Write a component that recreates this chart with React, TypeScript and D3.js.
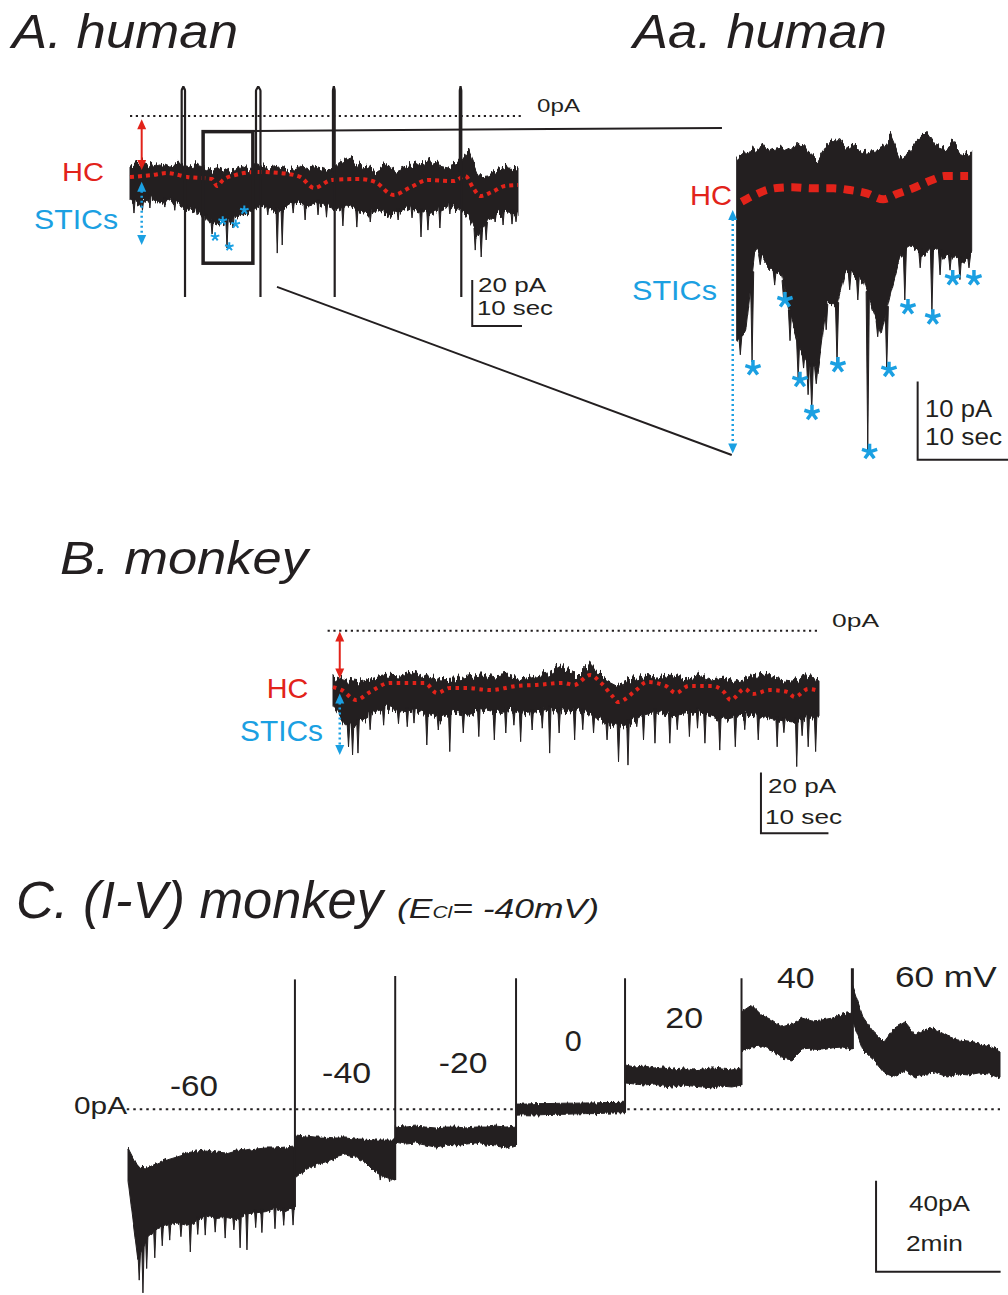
import React, { useEffect, useRef } from 'react';
import * as d3 from 'd3';

const FONT = "'Liberation Sans', Arial, Helvetica, sans-serif";
const INK = '#231f20';
const RED = '#e2231a';
const BLUE = '#1ba0e2';

// ---- A. human: whole record, current (pA) sampled every 2 s ----
const aSampleStep = 2;
const aTop = [-20.9, -20, -21.7, -20.4, -22.2, -21.3, -22.6, -21.7, -23.5, -22.2, -24.3, -21.7, -23, -20.4, -22.6, -21.7, -23.5, -21.7, -23, -22.2,
  -23.9, -20.4, -18.3, -21.3, -22.6, -23.5, -21.7, -23.9, -22.2, -20.4, -19.1, -21.7, -22.6, -21.3, -14.8, -25.7, -25.2, -23.5, -22.6, -23];
const aBottom = [-36.5, -38.7, -35.7, -37.8, -36.5, -38.3, -40.9, -41.7, -46.1, -47.8, -45.2, -43.5, -41.7, -39.1, -40, -41.7, -38.7, -37.8, -39.1, -37.8,
  -39.6, -40.9, -38.7, -41.7, -42.6, -40.9, -43.5, -41.7, -39.6, -41.7, -42.6, -40.9, -39.1, -40, -43, -53, -46, -42.6, -41.7, -43];
const aSticT = [0.8, 2.5, 4, 7, 9, 11.3, 13.5, 15.3, 16.5, 17.9, 19.5, 20.7, 22.5, 27.7, 29.6, 30.6, 32.8, 35.2, 37.8, 39.5, 42.8, 45.6, 48.3, 51.3, 53.9,
  56.7, 58.5, 59.9, 62.3, 64.3, 69.4, 70.6, 71.6, 73.4, 75, 76.8, 77.6];
const aSticPA = [-42.2, -41, -40, -39.6, -41, -41.7, -43, -42.2, -51.3, -47, -57.4, -48.7, -42.6, -43, -59.6, -56.1, -42.2, -45.2, -43, -44, -47.8, -48.3,
  -46.1, -43, -45.2, -44.3, -52.6, -49.6, -48.7, -42.6, -58.3, -61.3, -53.9, -46.1, -47.4, -47, -46];
const aHcT = [0, 4.4, 7.4, 11.5, 16.5, 17.5, 18.7, 21.1, 25.5, 30.2, 34.2, 37, 40.6, 46.2, 49.3, 52.9, 56.5, 59.9, 65.1, 67.4, 69, 70.4, 72.8, 75.4, 78];
const aHcPA = [-26.5, -25.7, -24.8, -26.5, -27.4, -30.4, -27.8, -25.7, -24.3, -24.8, -26.5, -31.3, -27.8, -27.4, -28.7, -34.3, -30.9, -27.8, -28.3, -26.1, -31.3, -34.8, -33, -30.4, -30];
const aArtifactT = [10.39, 25.33, 40.8, 66.3];
const aArtifactW = [0.67, 0.9, 0.35, 0.3];
const aStarT = [17.1, 18.64, 19.96, 21.25, 22.98];
const aStarPA = [-52.5, -45.5, -56.8, -47, -40.9];

// ---- Aa. human: expanded segment, current relative to HC (pA), sampled every 1 s ----
const aaSampleStep = 1;
const aaTop = [3.6, 4.6, 4.9, 5.5, 4.9, 5.1, 4.5, 5.9, 4.6, 3.6, 5.5, 6.0, 5.4, 5.1, 4.6, 4.9, 5.1, 6.6, 3.8, 4.6, 6.1, 7.2, 5.5, 5.1, 5.9, 4.2, 4.6];
const aaBottom = [-19.5, -18.5, -7.9, -9.5, -10.7, -11.1, -16.5, -20.5, -22.5, -23.5, -14.3, -15.5, -10.5, -11.1, -11.7, -15.5, -18.5, -13.5, -9.2, -7.3, -7.9, -8.6, -7.3, -9.2, -8.6, -9.5, -8.6];
const aaSticT = [0.4, 1.7, 2.6, 4.2, 5.2, 5.9, 6.8, 7.4, 7.9, 8.3, 8.8, 9.9, 11.1, 12.5, 13.4, 14.5, 15.6, 16.6, 18.6, 20.3, 21.6, 22.5, 23.6, 24.7, 25.7];
const aaSticPA = [-21.3, -22.2, -9.8, -12.4, -14.3, -19.5, -24.3, -23, -26.4, -28.4, -25, -18.1, -22.2, -13, -14.3, -33.5, -19, -23, -14.3, -10.2, -15.8, -11.1, -10.5, -11.7, -10.2];
const aaHcT = [0.55, 1.8, 3.3, 4.8, 6.2, 8.4, 10.7, 12.5, 14.4, 16.2, 17.7, 19.5, 21.6, 23.0, 25.6];
const aaHcPA = [-1.75, -1.0, -0.26, 0.04, 0.09, -0.04, -0.04, -0.26, -0.68, -1.44, -0.77, -0.04, 1.02, 1.53, 1.53];
const aaStarT = [1.8, 5.34, 7.0, 8.33, 11.2, 14.7, 16.85, 18.95, 21.7, 23.9, 26.25];
const aaStarPA = [-23, -14.3, -24.5, -28.7, -22.6, -33.7, -23.2, -15.2, -16.5, -11.5, -11.5];

// ---- B. monkey: current (pA) sampled every 2 s ----
const bSampleStep = 2;
const bTop = [-15.1, -16.4, -17.1, -15.8, -14.8, -15.1, -13.8, -15.4, -16.4, -16.1, -15.1, -14.4, -15.4, -14.8, -16.1, -15.1, -14.4, -11.8, -15.4, -11.1,
  -15.8, -18.1, -16.4, -15.1, -15.8, -14.8, -16.1, -15.1, -16.4, -15.8, -17.1, -15.4, -14.8, -16.1, -16.8, -15.4, -16.4];
const bBottom = [-24.8, -32.4, -30.4, -27.1, -25.8, -27.1, -26.4, -27.8, -29.1, -27.1, -28.1, -26.4, -27.4, -26.4, -27.8, -27.1, -26.1, -27.1, -26.4, -27.8,
  -29.8, -32.4, -30.4, -28.1, -27.1, -28.4, -27.8, -26.8, -28.4, -29.8, -28.4, -27.8, -28.8, -29.8, -30.4, -29.1, -28.4];
const bSticT = [2.3, 2.9, 3.7, 9.7, 12, 13.9, 15.6, 17.3, 19.3, 21.6, 23.9, 25.6, 27.8, 29.5, 32.1, 33.5, 35.8, 38.6, 40.6, 42.3, 43.7, 46, 47.7, 49.9, 52.8,
  55.1, 57.3, 59.6, 63, 65.8, 68.7, 70.4, 71.5, 5.5, 7.5, 11, 26.8, 31, 37, 45, 51, 54, 61, 66.8, 69.5];
const bSticPA = [-38.7, -41.4, -40.8, -31, -30.8, -38.1, -33.1, -40.3, -34.1, -35.3, -36.4, -34.1, -37, -33.1, -40.8, -34.1, -36.4, -34.1, -36.4, -43.7,
  -44.8, -36.4, -37.5, -37.5, -35.3, -37.5, -39.8, -38.7, -36.4, -38.7, -45.3, -38.7, -40.3, -33, -31.5, -32, -31.5, -32.5, -33, -32, -33, -32.5, -33, -34, -35];
const bHcT = [0, 1.3, 3.4, 5.5, 8.4, 13.6, 15.4, 17.3, 19.8, 23.3, 27.3, 30.1, 34.1, 35.7, 38.1, 39.7, 41.5, 42.2, 44.9, 46.5, 49.3, 50.8, 52.7, 56.1, 57.9,
  58.9, 61, 62.2, 64.7, 67.3, 68.4, 70.4, 72];
const bHcPA = [-18.8, -19.8, -23.1, -20.4, -17.4, -17.4, -20.8, -19.1, -19.1, -19.8, -18.4, -18.1, -17.4, -18.1, -14.8, -17.4, -22.1, -23.8, -19.8, -17.1,
  -18.4, -20.8, -18.4, -18.4, -20.4, -23.1, -19.4, -21.1, -19.8, -20.4, -22.1, -19.4, -20.1];

// ---- C. I-V monkey: time in min, current in pA, one envelope per voltage step ----
const cVolts = ['-60', '-40', '-20', '0', '20', '40', '60 mV'];
const cStepStart = [0, 2.68, 4.29, 6.23, 7.98, 9.85, 11.63];
const cEnd = 14;
const cTop = [
  [-17, -25.4, -25.8, -23.6, -21.8, -20.5, -19.2, -18.3, -17.9, -18.8, -19.2, -17.9, -18.3, -17.5, -17, -17, -16.6, -16.1],
  [-11.3, -11.7, -12.2, -12.2, -12.6, -12.6, -13.1, -13.1, -13.5, -13.5, -13.5],
  [-7.4, -7.8, -7.4, -7.8, -8.2, -7.8, -7.8, -8.2, -7.8, -7.8, -7.4, -7.8, -7.4],
  [2.3, 2.3, 2.5, 2.5, 2.6, 2.7, 2.7, 2.8, 2.8, 3.0, 3.0, 3.1],
  [19.5, 18.6, 19.0, 18.2, 18.6, 17.7, 18.2, 17.3, 17.7, 18.2, 17.7, 17.3, 18.2],
  [42.8, 45.8, 41.4, 39.3, 36.2, 37.5, 40.1, 38.8, 39.3, 40.1, 41.9, 42.8],
  [54.6, 40.6, 34, 29.6, 35.7, 38.4, 32.7, 35.7, 34.9, 32.2, 30.5, 30, 29.2, 27.8, 25.2],
];
const cBottom = [
  [-31.1, -66, -56, -52.5, -51, -50, -51, -49, -47, -48, -47.5, -48.5, -46, -45.5, -45, -43.5, -45, -43],
  [-30.2, -26.7, -24.5, -23.2, -21.4, -20.1, -21, -23.2, -27.6, -29.8, -31.1],
  [-14.4, -15.3, -14.8, -15.7, -16.6, -15.7, -16.1, -15.3, -14.8, -15.7, -16.1, -17, -15.7],
  [-2.6, -2.4, -2.5, -2.3, -2.2, -2.2, -2, -1.9, -1.9, -1.7, -1.6, -1.5],
  [11.6, 11.1, 10.7, 11.1, 10.2, 9.8, 10.7, 10.2, 9.8, 9.4, 10.2, 9.8, 10.7],
  [25.2, 27.4, 27.8, 26.1, 22.5, 21.7, 26.1, 26.5, 26.1, 27, 27.4, 26.5],
  [39.3, 26.1, 21.7, 16, 14.2, 16.9, 14.2, 15.5, 16, 14.2, 15.5, 15.1, 16, 15.5, 13.7],
];
const cArtifactTop = [57.1, 58.6, 57.6, 57.6, 57.6, 62];
const cSticT = [0.18, 0.24, 0.3, 0.43, 0.55, 0.67, 0.85, 1.0, 1.12, 1.24, 1.4, 1.56, 1.7, 1.8, 1.91, 2.05, 2.15, 2.36, 2.5, 2.65, 3.0, 4.05, 4.2];
const cSticPA = [-75.1, -80.7, -70, -65.3, -60, -57.5, -56, -62.7, -55, -55.3, -54, -56.6, -53, -60.9, -61.8, -52, -54.2, -52.5, -51, -50.9, -25.8, -31.1, -31.8];
const cLabelT = [1.06, 3.51, 5.38, 7.15, 8.93, 10.72, 13.13];
const cLabelPA = [5.8, 11.4, 15.8, 25.8, 35.9, 53.2, 53.9];
const cLabelLen = [48, 49, 48.6, 17, 37.7, 37.6, 101.7];

const asteriskType = {
  draw(ctx: any, r: number) {
    for (let k = 0; k < 5; k++) {
      const a = -Math.PI / 2 + (k * 2 * Math.PI) / 5;
      ctx.moveTo(0, 0);
      ctx.lineTo(r * Math.cos(a), r * Math.sin(a));
    }
  },
};

const App = () => {
  const svgRef = useRef<SVGSVGElement>(null);

  useEffect(() => {
    const svg = d3.select(svgRef.current);
    svg.selectAll('*').remove();
    const defs = svg.append('defs');

    // jagged trace edges (recording noise look)
    const addNoise = (id: string, scale: number, fx: number) => {
      const f = defs.append('filter').attr('id', id)
        .attr('x', '-2%').attr('y', '-30%').attr('width', '104%').attr('height', '160%')
        .attr('color-interpolation-filters', 'sRGB');
      f.append('feTurbulence').attr('type', 'fractalNoise').attr('baseFrequency', `${fx} 0.01`)
        .attr('numOctaves', 2).attr('seed', 7).attr('result', 'n');
      f.append('feColorMatrix').attr('in', 'n').attr('type', 'matrix')
        .attr('values', '0 0 0 0 0.5  0 1 0 0 0  0 0 0 0 0  0 0 0 0 1').attr('result', 'm');
      f.append('feDisplacementMap').attr('in', 'SourceGraphic').attr('in2', 'm').attr('scale', scale)
        .attr('xChannelSelector', 'R').attr('yChannelSelector', 'G');
    };
    addNoise('noiseBig', 16, 0.4);
    addNoise('noiseAa', 16, 0.28);
    addNoise('noiseC', 6, 0.45);

    const text = (x: number, y: number, s: string, size: number, o: any = {}) => {
      const t = svg.append('text').attr('x', x).attr('y', y).text(s)
        .attr('font-family', FONT).attr('font-size', size).attr('fill', o.fill || INK)
        .attr('font-style', o.italic ? 'italic' : 'normal')
        .attr('text-anchor', o.anchor || 'start');
      if (o.len) t.attr('textLength', o.len).attr('lengthAdjust', 'spacingAndGlyphs');
      return t;
    };

    const band = (g: any, xs: any, ys: any, ts: number[], top: number[], bottom: number[], filterId: string) => {
      const pts = ts.map((t, i) => ({ t, top: top[i], bottom: bottom[i] }));
      g.append('path').datum(pts)
        .attr('d', d3.area<any>().x((d) => xs(d.t)).y0((d) => ys(d.bottom)).y1((d) => ys(d.top)))
        .attr('fill', INK).attr('stroke', INK).attr('stroke-width', 1)
        .attr('filter', `url(#${filterId})`);
    };

    const stics = (g: any, xs: any, ys: any, baseAt: (t: number) => number, ts: number[], amps: number[], halfW: number) => {
      g.append('g').selectAll('path').data(ts.map((t, i) => ({ t, a: amps[i] }))).join('path')
        .attr('d', (d: any) => {
          const b = ys(baseAt(d.t)) - 3;
          return `M${xs(d.t - halfW)},${b}L${xs(d.t)},${ys(d.a)}L${xs(d.t + halfW)},${b}Z`;
        })
        .attr('fill', INK).attr('stroke', INK).attr('stroke-width', 1);
    };

    const hcLine = (g: any, xs: any, ys: any, ts: number[], vals: number[], w: number, dash: string) => {
      g.append('path').datum(ts.map((t, i) => [t, vals[i]]))
        .attr('d', d3.line<any>().x((d) => xs(d[0])).y((d) => ys(d[1])).curve(d3.curveMonotoneX))
        .attr('fill', 'none').attr('stroke', RED).attr('stroke-width', w).attr('stroke-dasharray', dash);
    };

    const vArrow = (x: number, y1: number, y2: number, color: string, dotted: boolean) => {
      const hl = 10, hw = 4.5;
      svg.append('line').attr('x1', x).attr('x2', x).attr('y1', y1 + hl - 1).attr('y2', y2 - hl + 1)
        .attr('stroke', color).attr('stroke-width', dotted ? 2.5 : 2)
        .attr('stroke-dasharray', dotted ? '2 3' : null);
      svg.append('path').attr('d', `M${x},${y1}L${x - hw},${y1 + hl}L${x + hw},${y1 + hl}Z`).attr('fill', color);
      svg.append('path').attr('d', `M${x},${y2}L${x - hw},${y2 - hl}L${x + hw},${y2 - hl}Z`).attr('fill', color);
    };

    const zeroLine = (x1: number, x2: number, y: number, dash: string) => {
      svg.append('line').attr('x1', x1).attr('x2', x2).attr('y1', y).attr('y2', y)
        .attr('stroke', INK).attr('stroke-width', 2).attr('stroke-dasharray', dash);
    };

    const scaleBar = (x0: number, yTop: number, yBot: number, x1: number) => {
      svg.append('path').attr('d', `M${x0},${yTop}L${x0},${yBot}L${x1},${yBot}`)
        .attr('fill', 'none').attr('stroke', INK).attr('stroke-width', 2);
    };

    const stars = (xs: any, ys: any, ts: number[], vals: number[], r: number, w: number) => {
      const sym = d3.symbol().type(asteriskType as any).size(r);
      svg.append('g').selectAll('path').data(ts.map((t, i) => [t, vals[i]])).join('path')
        .attr('transform', (d: any) => `translate(${xs(d[0])},${ys(d[1])})`)
        .attr('d', sym as any).attr('fill', 'none').attr('stroke', BLUE).attr('stroke-width', w);
    };

    // ================= Panel A =================
    const xA = d3.scaleLinear().domain([0, 78]).range([130, 518]);
    const yA = d3.scaleLinear().domain([0, -20]).range([116, 162]);
    const aT = aTop.map((_, i) => i * aSampleStep);
    const aBase = d3.scaleLinear().domain(aT).range(aBottom).clamp(true);

    text(12, 48, 'A. human', 48, { italic: true, len: 226 });
    text(633, 48, 'Aa. human', 48, { italic: true, len: 254 });

    zeroLine(xA(0), xA(78.8), yA(0), '2.2 3.6');
    text(537, 112, '0pA', 19, { len: 43 });

    const gA = svg.append('g');
    band(gA, xA, yA, aT, aTop, aBottom, 'noiseBig');
    stics(gA, xA, yA, (t) => aBase(t), aSticT, aSticPA, 0.25);
    hcLine(gA, xA, yA, aHcT, aHcPA, 4, '4 4');

    // voltage-step artifacts
    aArtifactT.forEach((t0, i) => {
      const w = aArtifactW[i];
      const pts = [[t0, -24], [t0, 11], [t0 + w / 2, 13], [t0 + w, 11], [t0 + w, -78.7]];
      gA.append('path').datum(pts)
        .attr('d', d3.line<any>().x((d) => xA(d[0])).y((d) => yA(d[1])).curve(d3.curveMonotoneY))
        .attr('fill', 'none').attr('stroke', INK).attr('stroke-width', 2.2);
    });

    // zoom box
    svg.append('rect').attr('x', xA(14.7)).attr('y', yA(-6.8))
      .attr('width', xA(24.7) - xA(14.7)).attr('height', yA(-64) - yA(-6.8))
      .attr('fill', 'none').attr('stroke', INK).attr('stroke-width', 3.5);
    stars(xA, yA, aStarT, aStarPA, 4.5, 2);

    vArrow(xA(2.35), yA(-1.4), yA(-23.5), RED, false);
    vArrow(xA(2.35), yA(-28.6), yA(-56.1), BLUE, true);
    text(62, 181, 'HC', 26, { fill: RED, len: 42 });
    text(34, 228.5, 'STICs', 28, { fill: BLUE, len: 84 });

    scaleBar(xA(68.8), yA(-71.3), yA(-91.3), xA(78.8));
    text(478, 292, '20 pA', 21, { len: 68 });
    text(477, 315, '10 sec', 21, { len: 76 });

    // ================= Panel Aa =================
    const xAa = d3.scaleLinear().domain([0, 26]).range([736.7, 971.7]);
    const yAa = d3.scaleLinear().domain([0, -10]).range([188, 266.3]);
    const aaT = aaTop.map((_, i) => i * aaSampleStep);
    const aaBase = d3.scaleLinear().domain(aaT).range(aaBottom).clamp(true);

    svg.append('line').attr('x1', xA(24.73)).attr('y1', yA(-6.5)).attr('x2', xAa(-1.63)).attr('y2', yAa(7.66))
      .attr('stroke', INK).attr('stroke-width', 2);
    svg.append('line').attr('x1', xA(29.55)).attr('y1', yA(-74.3)).attr('x2', xAa(-0.55)).attr('y2', yAa(-34.1))
      .attr('stroke', INK).attr('stroke-width', 2);

    const gAa = svg.append('g');
    band(gAa, xAa, yAa, aaT, aaTop, aaBottom, 'noiseAa');
    stics(gAa, xAa, yAa, (t) => aaBase(t), aaSticT, aaSticPA, 0.18);
    hcLine(gAa, xAa, yAa, aaHcT, aaHcPA, 8, '10 7.5');
    stars(xAa, yAa, aaStarT, aaStarPA, 8, 3.5);

    vArrow(xAa(-0.44), yAa(-2.8), yAa(-33.9), BLUE, true);
    text(690, 205, 'HC', 28, { fill: RED, len: 42 });
    text(632, 300, 'STICs', 28, { fill: BLUE, len: 85 });

    scaleBar(xAa(20.02), yAa(-24.7), yAa(-34.7), xAa(30.02));
    text(925, 417, '10 pA', 23, { len: 67 });
    text(925, 445, '10 sec', 23, { len: 77 });

    // ================= Panel B =================
    const xB = d3.scaleLinear().domain([0, 72]).range([333, 819]);
    const yB = d3.scaleLinear().domain([0, -20]).range([630.7, 690.7]);
    const bT = bTop.map((_, i) => i * bSampleStep);
    const bBase = d3.scaleLinear().domain(bT).range(bBottom).clamp(true);

    text(60, 574, 'B. monkey', 46, { italic: true, len: 248 });
    zeroLine(xB(-0.8), xB(71.9), yB(0), '2.2 3.6');
    text(832, 627, '0pA', 19, { len: 47 });

    const gB = svg.append('g');
    band(gB, xB, yB, bT, bTop, bBottom, 'noiseBig');
    stics(gB, xB, yB, (t) => bBase(t), bSticT, bSticPA, 0.2);
    hcLine(gB, xB, yB, bHcT, bHcPA, 4, '3.5 4.5');

    vArrow(xB(1.0), yB(-0.3), yB(-15.9), RED, false);
    vArrow(xB(1.0), yB(-20.9), yB(-41.4), BLUE, true);
    text(266.7, 698.3, 'HC', 28, { fill: RED, len: 41.6 });
    text(240, 740.7, 'STICs', 29, { fill: BLUE, len: 83 });

    scaleBar(xB(63.4), yB(-47.3), yB(-67.5), xB(73.4));
    text(768, 793, '20 pA', 21, { len: 68 });
    text(765, 824, '10 sec', 21, { len: 77 });

    // ================= Panel C =================
    const xC = d3.scaleLinear().domain([0, 14]).range([128, 1000]);
    const yC = d3.scaleLinear().domain([0, 40]).range([1109.3, 1018.3]);

    text(16, 918, 'C. (I-V) monkey', 51, { italic: true, len: 367 });
    const sub = svg.append('text').attr('x', 397).attr('y', 918)
      .attr('font-family', FONT).attr('font-style', 'italic').attr('font-size', 27).attr('fill', INK)
      .attr('textLength', 202).attr('lengthAdjust', 'spacingAndGlyphs');
    sub.append('tspan').text('(E');
    sub.append('tspan').attr('font-size', 16).text('Cl');
    sub.append('tspan').text('= -40mV)');

    zeroLine(xC(-0.02), xC(14), yC(0), '2.5 4');
    text(74, 1114, '0pA', 24, { len: 53 });

    const segEnds = cStepStart.map((s, i) => (i < cStepStart.length - 1 ? cStepStart[i + 1] : cEnd));
    const segTimes = cTop.map((vals, k) =>
      vals.map((_, i) => cStepStart[k] + (i * (segEnds[k] - cStepStart[k])) / (vals.length - 1)));
    const gC = svg.append('g');
    cTop.forEach((vals, k) => band(gC, xC, yC, segTimes[k], vals, cBottom[k], 'noiseC'));

    const cBase = (t: number) => {
      const k = Math.max(0, d3.bisectRight(cStepStart, t) - 1);
      return d3.scaleLinear().domain(segTimes[k]).range(cBottom[k]).clamp(true)(t);
    };
    stics(gC, xC, yC, cBase, cSticT, cSticPA, 0.02);

    cArtifactTop.forEach((top, i) => {
      const k = i + 1;
      const low = Math.min(cBottom[k - 1][cBottom[k - 1].length - 1], cBottom[k][0]);
      gC.append('line').attr('x1', xC(cStepStart[k])).attr('x2', xC(cStepStart[k]))
        .attr('y1', yC(top)).attr('y2', yC(low))
        .attr('stroke', INK).attr('stroke-width', k === 6 ? 3 : 2);
    });

    cVolts.forEach((v, i) => {
      text(xC(cLabelT[i]), yC(cLabelPA[i]), v, 30, { anchor: 'middle', len: cLabelLen[i] });
    });

    scaleBar(xC(12.01), yC(-31.4), yC(-71.4), xC(14.01));
    text(909, 1211, '40pA', 22, { len: 61 });
    text(906, 1251, '2min', 22, { len: 57 });
  }, []);

  return (
    <svg
      ref={svgRef}
      width={1008}
      height={1295}
      style={{ position: 'absolute', left: 0, top: 0, background: '#fff' }}
    />
  );
};

export default App;
